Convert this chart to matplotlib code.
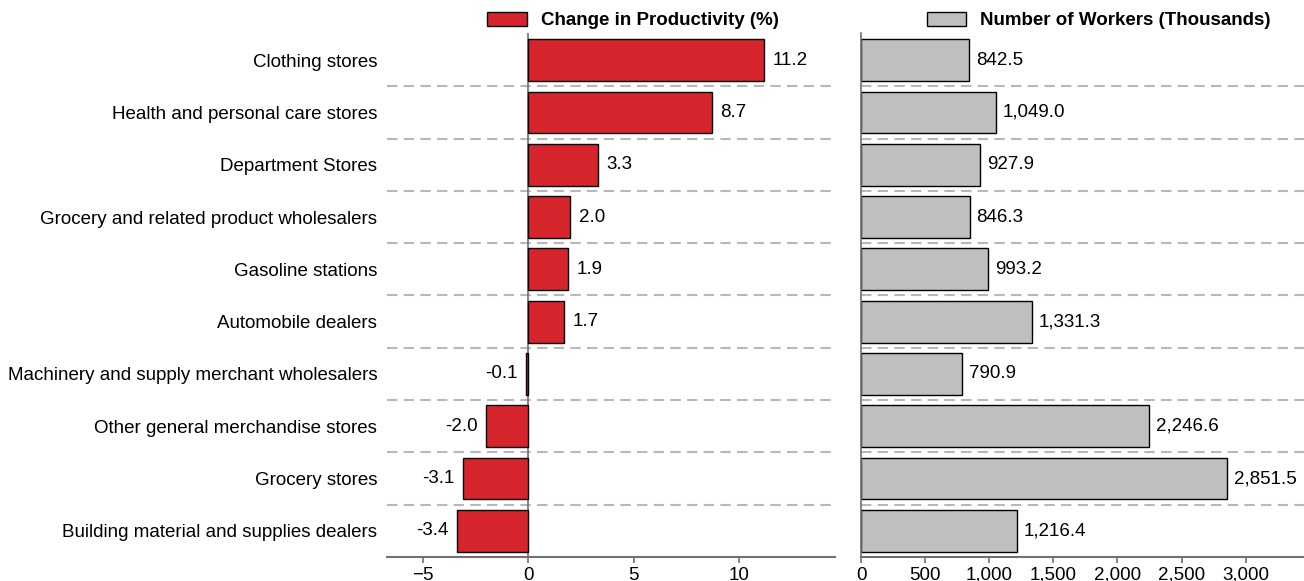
import matplotlib.pyplot as plt
import matplotlib.ticker as mticker
from matplotlib.patches import Patch

# industries, top to bottom
CATEGORIES = [
    "Clothing stores",
    "Health and personal care stores",
    "Department Stores",
    "Grocery and related product wholesalers",
    "Gasoline stations",
    "Automobile dealers",
    "Machinery and supply merchant wholesalers",
    "Other general merchandise stores",
    "Grocery stores",
    "Building material and supplies dealers",
]
PRODUCTIVITY = [11.2, 8.7, 3.3, 2.0, 1.9, 1.7, -0.1, -2.0, -3.1, -3.4]
WORKERS = [842.5, 1049.0, 927.9, 846.3, 993.2, 1331.3, 790.9, 2246.6, 2851.5, 1216.4]

RED = "#d7252d"
GREY = "#bfbfbf"
AXIS_GREY = "#707070"
FS = 13.5

plt.rcParams["font.family"] = ["Liberation Sans", "DejaVu Sans"]

fig = plt.figure(figsize=(13.04, 5.81), dpi=100)
ax1 = fig.add_axes([0.2968, 0.0413, 0.3436, 0.902])
ax2 = fig.add_axes([0.6603, 0.0413, 0.3397, 0.902])

y = list(range(len(CATEGORIES)))


def style_axis(ax):
    for s in ["top", "right", "left"]:
        ax.spines[s].set_visible(False)
    ax.spines["bottom"].set_color(AXIS_GREY)
    ax.spines["bottom"].set_linewidth(1.5)
    ax.tick_params(axis="x", colors=AXIS_GREY, labelcolor="black", labelsize=FS,
                   width=1.2, length=4, pad=3)
    ax.set_ylim(9.5, -0.52)
    for k in range(len(CATEGORIES) - 1):
        ax.axhline(k + 0.5, color="#b8b8b8", linestyle=(0, (5, 3)), linewidth=1.5, zorder=0)


# left panel: productivity change
ax1.barh(y, PRODUCTIVITY, height=0.8, color=RED, edgecolor="black", linewidth=1, zorder=2)
style_axis(ax1)
ax1.axvline(0, color=AXIS_GREY, linewidth=1.2, zorder=1)
ax1.set_xlim(-6.7, 14.55)
ax1.set_xticks([-5, 0, 5, 10])
ax1.set_yticks(y)
ax1.set_yticklabels(CATEGORIES, fontsize=FS)
ax1.tick_params(axis="y", length=0, pad=7)
for yi, v in zip(y, PRODUCTIVITY):
    off = 0.4 if v >= 0 else -0.4
    ax1.text(v + off, yi, f"{v:.1f}", va="center", ha="left" if v >= 0 else "right", fontsize=FS)

# right panel: worker counts
ax2.barh(y, WORKERS, height=0.8, color=GREY, edgecolor="black", linewidth=1, zorder=2)
style_axis(ax2)
ax2.spines["left"].set_visible(True)
ax2.spines["left"].set_color(AXIS_GREY)
ax2.spines["left"].set_linewidth(1.2)
ax2.set_xlim(0, 3455)
ax2.set_xticks([0, 500, 1000, 1500, 2000, 2500, 3000])
ax2.xaxis.set_major_formatter(mticker.FuncFormatter(lambda v, p: f"{v:,.0f}"))
ax2.set_yticks([])
for yi, v in zip(y, WORKERS):
    ax2.text(v + 55, yi, f"{v:,.1f}", va="center", ha="left", fontsize=FS)

leg_kw = dict(frameon=False, loc="lower center",
              prop={"weight": "bold", "size": FS}, handlelength=2.1, handleheight=0.8,
              handletextpad=0.75, borderaxespad=0, borderpad=0.2)
ax1.legend([Patch(facecolor=RED, edgecolor="black")], ["Change in Productivity (%)"],
           bbox_to_anchor=(0.549, 1.0), **leg_kw)
ax2.legend([Patch(facecolor=GREY, edgecolor="black")], ["Number of Workers (Thousands)"],
           bbox_to_anchor=(0.537, 1.0), **leg_kw)

fig.savefig("out.png", dpi=100)
